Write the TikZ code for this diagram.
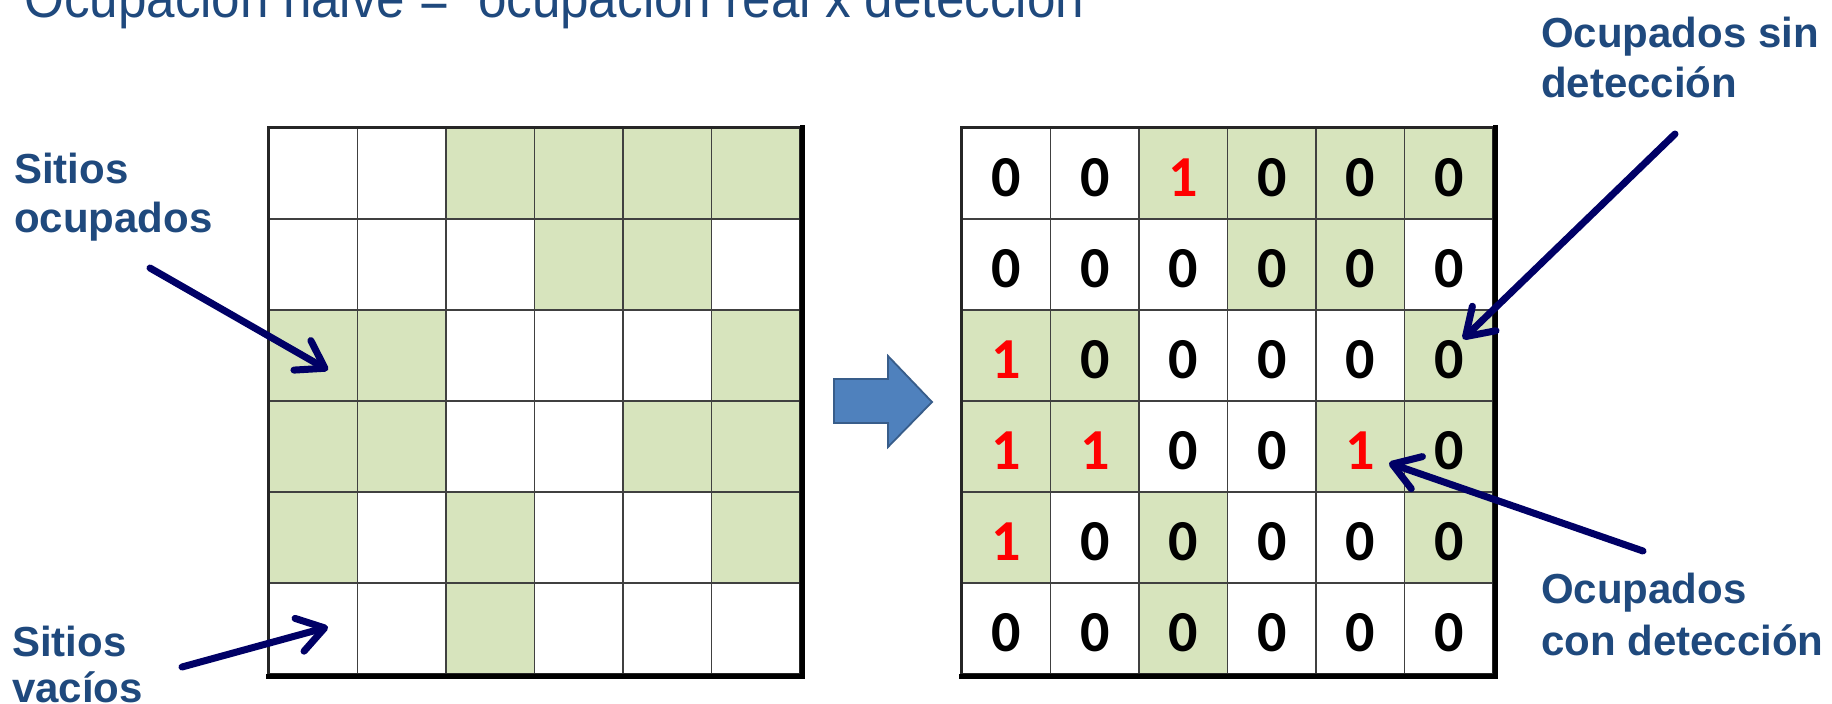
\documentclass[tikz,border=0pt]{standalone}
\usepackage{fontspec}
\usepackage{graphicx}
\setmainfont{Liberation Sans}
\newfontfamily\digitfont{Carlito}
\usetikzlibrary{arrows.meta,calc}
\definecolor{occ}{RGB}{215,228,189}
\definecolor{lab}{RGB}{31,73,125}
\definecolor{navy}{RGB}{0,0,102}
\definecolor{bigarrow}{RGB}{79,129,189}
\definecolor{bigarrowedge}{RGB}{56,93,138}
\begin{document}
\begin{tikzpicture}[x=1pt,y=-1pt,
  cell/.style={rectangle, minimum width=88.5pt, minimum height=91pt, inner sep=0pt, draw=black!75, line width=1.5pt},
  digitnum/.style={anchor=base, inner sep=0pt, font=\fontsize{58}{60}\selectfont\digitfont\bfseries},
  lbl/.style={anchor=base west, inner sep=0pt, text=lab, font=\fontsize{42}{50}\selectfont\bfseries},
  navyarrow/.style={draw=navy, line width=7pt, line cap=round, line join=round, -{Straight Barb[length=26pt,width=34pt,round]}},
  outerframe/.style={draw=black!85, line width=2.6pt},
  shadowedge/.style={draw=black, line width=4.5pt, line cap=rect}
]
\useasboundingbox (0,0) rectangle (1832,704);

% title (its upper part lies above the page and is cut off)
\node[anchor=base west, inner sep=0pt, text=lab] (title) at (24,17)
  {\resizebox{1060pt}{\height}{\fontsize{55}{60}\selectfont Ocupación naive =\ \ ocupación real x detección}};

% grids
\foreach \o/\n [count=\i from 0] in {0/0,0/0,1/1,1/0,1/0,1/0,
                                     0/0,0/0,0/0,1/0,1/0,0/0,
                                     1/1,1/0,0/0,0/0,0/0,1/0,
                                     1/1,1/1,0/0,0/0,1/1,1/0,
                                     1/1,0/0,1/0,0/0,0/0,1/0,
                                     0/0,0/0,1/0,0/0,0/0,0/0} {
  \pgfmathtruncatemacro{\r}{div(\i,6)+1}
  \pgfmathtruncatemacro{\c}{mod(\i,6)+1}
  \ifnum\o=1 \def\fc{occ}\else\def\fc{white}\fi
  \ifnum\n=1 \def\dc{red}\else\def\dc{black}\fi
  \node[cell, fill=\fc] (L-\r-\c) at ({269+88.5*(\c-0.5)}, {128+91*(\r-0.5)}) {};
  \node[cell, fill=\fc] (R-\r-\c) at ({962+88.5*(\c-0.5)}, {128+91*(\r-0.5)}) {};
  \node[digitnum, text=\dc] (D-\r-\c) at ([yshift=-23pt]R-\r-\c.center) {\n};
}

% frames
\draw[outerframe] (L-1-1.north west) rectangle (L-6-6.south east);
\draw[shadowedge] ([xshift=1.5pt]L-1-6.north east) -- ([xshift=1.5pt,yshift=-1.5pt]L-6-6.south east) -- ([yshift=-1.5pt]L-6-1.south west);
\draw[outerframe] (R-1-1.north west) rectangle (R-6-6.south east);
\draw[shadowedge] ([xshift=1.5pt]R-1-6.north east) -- ([xshift=1.5pt,yshift=-1.5pt]R-6-6.south east) -- ([yshift=-1.5pt]R-6-1.south west);

% big arrow
\filldraw[fill=bigarrow, draw=bigarrowedge, line width=1.8pt, line join=miter]
  (834,379) -- (888,379) -- (888,356) -- (932,402) -- (888,447) -- (888,423) -- (834,423) -- cycle;

% labels
\node[lbl] (lOcc) at (14,183) {\parbox[t]{320pt}{\raggedright Sitios\\[-1pt]ocupados}};
\node[lbl] (lVac) at (12,656) {\parbox[t]{320pt}{\raggedright Sitios\\[-4pt]vacíos}};
\node[lbl] (lSin) at (1541,47) {\parbox[t]{320pt}{\raggedright Ocupados sin\\detección}};
\node[lbl] (lCon) at (1541,603) {\parbox[t]{320pt}{\raggedright Ocupados\\[2pt]con detección}};

% pointer arrows
\coordinate (t1) at (150,268); \coordinate (h1) at (328,370);
\coordinate (t2) at (182,667); \coordinate (h2) at (328,627);
\coordinate (t3) at (1675,134); \coordinate (h3) at (1463,339);
\coordinate (t4) at (1643,551); \coordinate (h4) at (1389,463);
\draw[navyarrow] (t1) -- (h1);
\draw[navyarrow] (t2) -- (h2);
\draw[navyarrow] (t3) -- (h3);
\draw[navyarrow] (t4) -- (h4);
\end{tikzpicture}
\end{document}
